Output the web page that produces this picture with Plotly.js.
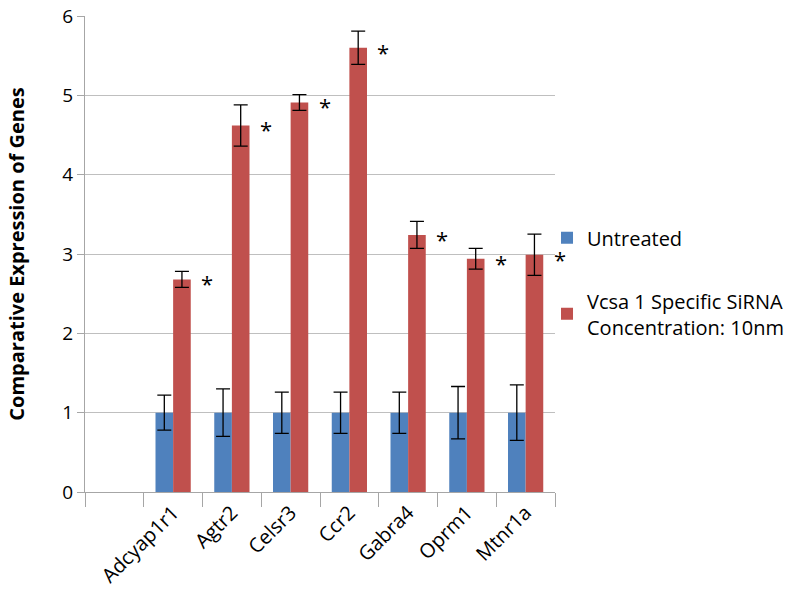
<!DOCTYPE html>
<html>
<head>
<meta charset="utf-8">
<script src="https://cdn.plot.ly/plotly-3.0.1.min.js"></script>
<style>html,body{margin:0;padding:0;background:#fff;}#chart{width:800px;height:599px;}</style>
</head>
<body>
<div id="chart"></div>
<script>
// Categories (leading blank slot as in the reference)
const categories = [' ', 'Adcyap1r1', 'Agtr2', 'Celsr3', 'Ccr2', 'Gabra4', 'Oprm1', 'Mtnr1a'];
const untreated = [null, 1.0, 1.0, 1.0, 1.0, 1.0, 1.0, 1.0];
const untreatedErr = [null, 0.22, 0.30, 0.26, 0.26, 0.26, 0.33, 0.35];
const sirna = [null, 2.68, 4.62, 4.91, 5.60, 3.24, 2.94, 2.99];
const sirnaErr = [null, 0.10, 0.26, 0.10, 0.21, 0.17, 0.13, 0.26];
const starLabels = [null, '*', '*', '*', '*', '*', '*', '*'];
const seriesNames = ['Untreated', 'Vcsa 1 Specific SiRNA<br>Concentration: 10nm'];
const yTitle = 'Comparative Expression of Genes';

const FONT = 'Open Sans, Liberation Sans, sans-serif';

const traces = [
  {
    type: 'bar', name: seriesNames[0], x: categories, y: untreated,
    marker: {color: '#4F81BD'}, legendgroup: 'a',
    error_y: {type: 'data', array: untreatedErr, visible: true, color: '#000', thickness: 1.3, width: 7}
  },
  {
    type: 'bar', name: seriesNames[1], x: categories, y: sirna,
    marker: {color: '#C0504D'}, legendgroup: 'b',
    error_y: {type: 'data', array: sirnaErr, visible: true, color: '#000', thickness: 1.3, width: 7}
  }
];

const annotations = [];
categories.forEach((c, i) => {
  if (starLabels[i]) {
    annotations.push({
      x: c, y: sirna[i], xref: 'x', yref: 'y', text: starLabels[i],
      showarrow: false, xshift: 34, yshift: -4,
      font: {family: FONT, size: 22, color: '#000'}
    });
  }
});

const layout = {
  width: 800, height: 599,
  margin: {l: 85, r: 245, t: 16, b: 107, autoexpand: false},
  paper_bgcolor: '#fff', plot_bgcolor: '#fff',
  font: {family: FONT, color: '#000'},
  barmode: 'group', bargap: 0.4, bargroupgap: 0,
  showlegend: true,
  legend: {x: 0.983, y: 0.575, xanchor: 'left', yanchor: 'top',
           font: {family: FONT, size: 20, color: '#000'},
           traceorder: 'grouped', tracegroupgap: 34, bgcolor: 'rgba(0,0,0,0)'},
  xaxis: {
    type: 'category', categoryorder: 'array', categoryarray: categories,
    range: [-0.5, categories.length - 0.5],
    tickson: 'boundaries', ticks: 'outside', ticklen: 14, tickcolor: '#a6a6a6', tickwidth: 1,
    tickangle: -45, tickfont: {family: FONT, size: 20, color: '#000'},
    showline: true, linecolor: '#a6a6a6', linewidth: 1,
    showgrid: false, zeroline: false, fixedrange: true
  },
  yaxis: {
    range: [0, 6], dtick: 1, tick0: 0,
    ticks: 'outside', ticklen: 7, tickcolor: '#a6a6a6',
    tickfont: {family: FONT, size: 19, color: '#000'},
    showgrid: true, gridcolor: '#bfbfbf', gridwidth: 1,
    showline: true, linecolor: '#a6a6a6', linewidth: 1,
    zeroline: true, zerolinecolor: '#a6a6a6', zerolinewidth: 1,
    title: {text: yTitle, font: {family: FONT, size: 20, color: '#000', weight: 'bold'}, standoff: 32},
    fixedrange: true
  },
  annotations: annotations
};

Plotly.newPlot('chart', traces, layout, {staticPlot: true, displayModeBar: false});
</script>
</body>
</html>
